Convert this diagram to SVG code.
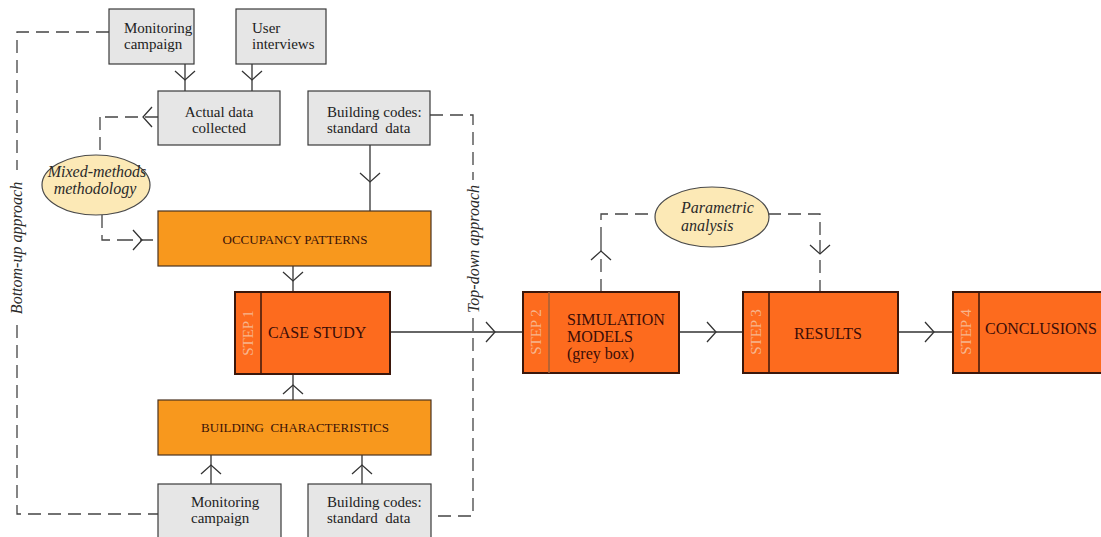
<svg xmlns="http://www.w3.org/2000/svg" width="1101" height="537" viewBox="0 0 1101 537">
<style>
text{font-family:"Liberation Serif","Times New Roman",serif;white-space:pre}
.gray{fill:#E6E6E6;stroke:#3a3a3a;stroke-width:1.2}
.orng{fill:#F8981D;stroke:#4a3320;stroke-width:1.2}
.step{fill:#FD6B1E;stroke:#3b170b;stroke-width:2}
.div{stroke:#3b170b;stroke-width:1.5;fill:none}
.ell{fill:#FCE9B6;stroke:#4a4a4a;stroke-width:1.2}
.gt{font-size:15px;fill:#222}
.ot{font-size:13px;fill:#3a1208}
.st{font-size:16px;fill:#3a0d08}
.sl{font-size:15px;fill:#F7B58E}
.it{font-size:16px;font-style:italic;fill:#2a2a2a}
.sol{fill:none;stroke:#333;stroke-width:1.3}
.das{fill:none;stroke:#444;stroke-width:1.3;stroke-dasharray:13 7}
.arr{marker-mid:url(#chev)}
</style>
<defs>
<marker id="chev" viewBox="-12 -12 24 24" refX="0" refY="0" markerWidth="24" markerHeight="24" markerUnits="userSpaceOnUse" orient="auto" overflow="visible">
<path d="M-9,-10 L0,0 L-9,10" fill="none" stroke="#333" stroke-width="1.3" stroke-dasharray="none"/>
</marker>
</defs>

<g id="connectors">
<path class="sol arr" d="M185,64 L185,80 L185,91"/>
<path class="sol arr" d="M252,64 L252,80 L252,91"/>
<path class="sol arr" d="M370,145 L370,182 L370,211"/>
<path class="sol arr" d="M293,266 L293,281 L293,292"/>
<path class="sol arr" d="M293,400 L293,385 L293,374"/>
<path class="sol arr" d="M211,484 L211,465 L211,455"/>
<path class="sol arr" d="M362,484 L362,465 L362,455"/>
<path class="sol arr" d="M390,332 L495,332 L523,332"/>
<path class="sol arr" d="M679,332 L716,332 L743,332"/>
<path class="sol arr" d="M898,332 L934,332 L953,332"/>
<path class="das" d="M109,32 H17 V170"/>
<path class="das" d="M17,325 V514 H158"/>
<path class="das" d="M430,115 H473 V180"/>
<path class="das" d="M473,318 V516 H431"/>
<path class="das arr" d="M158,117 L143,117 L100,117"/>
<path class="das" d="M100,117 V155"/>
<path class="das" d="M102,215 V240 H120"/>
<path class="das arr" d="M120,240 L142,240 L158,240"/>
<path class="das arr" d="M601,292 L601,251 L601,240"/>
<path class="das" d="M601,240 V214 H655"/>
<path class="das" d="M768,214 H820 V240"/>
<path class="das arr" d="M820,240 L820,254 L820,292"/>
</g>

<g id="monitoring-top">
<rect class="gray" x="109" y="9" width="85" height="55"/>
<text class="gt" x="124" y="33">Monitoring</text>
<text class="gt" x="124" y="49">campaign</text>
</g>
<g id="user-interviews">
<rect class="gray" x="236" y="9" width="90" height="55"/>
<text class="gt" x="252" y="33">User</text>
<text class="gt" x="252" y="49">interviews</text>
</g>
<g id="actual-data">
<rect class="gray" x="158" y="91" width="122" height="54"/>
<text class="gt" x="219" y="117" text-anchor="middle">Actual data</text>
<text class="gt" x="219" y="133" text-anchor="middle">collected</text>
</g>
<g id="building-codes-top">
<rect class="gray" x="308" y="91" width="122" height="54"/>
<text class="gt" x="327" y="117">Building codes:</text>
<text class="gt" x="327" y="133">standard  data</text>
</g>
<g id="mixed-methods">
<ellipse class="ell" cx="96" cy="185" rx="54" ry="30"/>
<text class="it" x="97" y="177" text-anchor="middle">Mixed-methods</text>
<text class="it" x="95" y="194" text-anchor="middle">methodology</text>
</g>
<g id="occupancy">
<rect class="orng" x="158" y="211" width="273" height="55"/>
<text class="ot" x="295" y="244" text-anchor="middle">OCCUPANCY PATTERNS</text>
</g>
<g id="case-study">
<rect class="step" x="235" y="292" width="155" height="82"/>
<path class="div" d="M261,292 V374"/>
<text class="sl" transform="translate(253,333) rotate(-90)" text-anchor="middle">STEP 1</text>
<text class="st" x="268" y="338">CASE STUDY</text>
</g>
<g id="building-characteristics">
<rect class="orng" x="158" y="400" width="273" height="55"/>
<text class="ot" x="295" y="432" text-anchor="middle">BUILDING  CHARACTERISTICS</text>
</g>
<g id="monitoring-bottom">
<rect class="gray" x="158" y="484" width="123" height="60"/>
<text class="gt" x="191" y="507">Monitoring</text>
<text class="gt" x="191" y="523">campaign</text>
</g>
<g id="building-codes-bottom">
<rect class="gray" x="308" y="484" width="123" height="60"/>
<text class="gt" x="327" y="507">Building codes:</text>
<text class="gt" x="327" y="523">standard  data</text>
</g>
<g id="simulation">
<rect class="step" x="523" y="292" width="156" height="81"/>
<path class="div" d="M549,292 V373" style="stroke:#a0603a"/>
<text class="sl" transform="translate(541,332) rotate(-90)" text-anchor="middle">STEP 2</text>
<text class="st" x="567" y="325">SIMULATION</text>
<text class="st" x="567" y="342">MODELS</text>
<text class="st" x="567" y="359">(grey box)</text>
</g>
<g id="parametric">
<ellipse class="ell" cx="712" cy="217" rx="57" ry="30"/>
<text class="it" x="681" y="213">Parametric</text>
<text class="it" x="681" y="231">analysis</text>
</g>
<g id="results">
<rect class="step" x="743" y="292" width="155" height="81"/>
<path class="div" d="M769,292 V373"/>
<text class="sl" transform="translate(761,332) rotate(-90)" text-anchor="middle">STEP 3</text>
<text class="st" x="828" y="339" text-anchor="middle">RESULTS</text>
</g>
<g id="conclusions">
<rect class="step" x="953" y="292" width="160" height="81"/>
<path class="div" d="M979,292 V373"/>
<text class="sl" transform="translate(971,332) rotate(-90)" text-anchor="middle">STEP 4</text>
<text class="st" x="985" y="334">CONCLUSIONS</text>
</g>
<g id="labels">
<text class="it" transform="translate(22,248) rotate(-90)" text-anchor="middle">Bottom-up approach</text>
<text class="it" transform="translate(479,249) rotate(-90)" text-anchor="middle">Top-down approach</text>
</g>
</svg>
